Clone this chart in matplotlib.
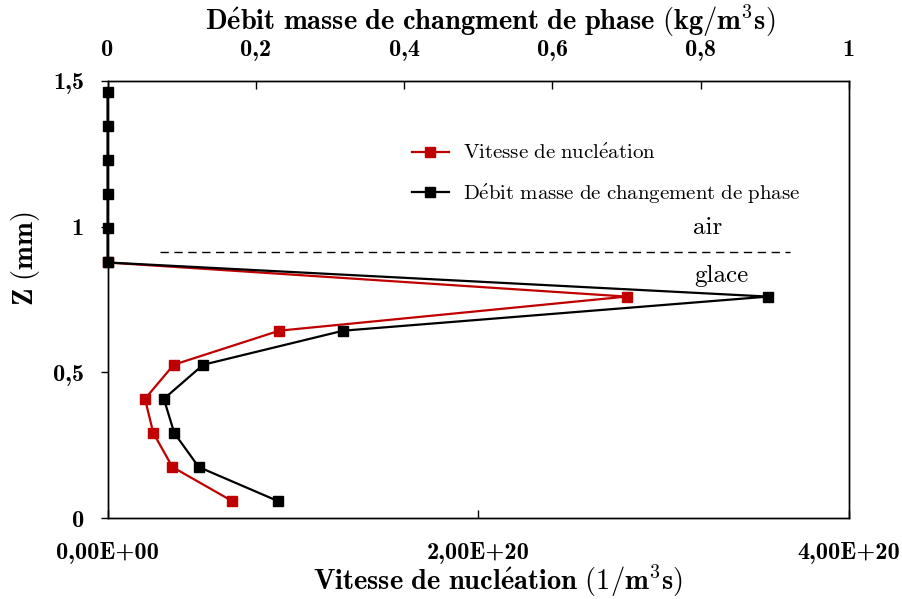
"""Profil de nucleation et debit masse de changement de phase."""
import matplotlib
matplotlib.use("Agg")
import matplotlib.pyplot as plt
from matplotlib.ticker import FixedLocator, FuncFormatter

plt.rcParams['font.family'] = ['cmr10', 'DejaVu Serif']
plt.rcParams['mathtext.fontset'] = 'cm'
plt.rcParams['axes.formatter.use_mathtext'] = True

# hauteur (mm)
z = [0.058, 0.175, 0.292, 0.409, 0.526, 0.643, 0.760, 0.877,
     0.994, 1.111, 1.228, 1.345, 1.462]
# vitesse de nucleation (1/m3s)
nucleation = [0.673e20, 0.350e20, 0.247e20, 0.202e20, 0.357e20, 0.927e20,
              2.80e20, 0.0]
# debit masse (kg/m3s)
debit = [0.230, 0.123, 0.090, 0.076, 0.129, 0.318, 0.891, 0.0,
         0.0, 0.0, 0.0, 0.0, 0.0]

interface_z = 0.914
interface_x = [0.283e20, 3.68e20]

RED = '#c00000'
BOLD = 'cmb10'

fig = plt.figure(figsize=(9.02, 5.99), dpi=100)
ax = fig.add_axes([0.1192, 0.1352, 0.822, 0.7296])
ax2 = ax.twiny()

l1, = ax.plot(nucleation, z[:len(nucleation)], color=RED, lw=1.6,
              marker='s', ms=7, clip_on=False,
              label=r'$\mathrm{Vitesse\ de\ nucl\acute{e}ation}$')
l2, = ax2.plot(debit, z, color='black', lw=1.6, marker='s', ms=7,
               clip_on=False,
               label=r'$\mathrm{D\acute{e}bit\ masse\ de\ changement\ de\ phase}$')

ax.plot(interface_x, [interface_z, interface_z], color='black', lw=1.0,
        dashes=(6, 4))
ax.text(3.24e20, 0.995, 'air', fontsize=18, ha='center', va='center')
ax.text(3.31e20, 0.831, 'glace', fontsize=18, ha='center', va='center')

ax.set_xlim(0, 4e20)
ax.set_ylim(0, 1.5)
ax2.set_xlim(0, 1)

ax.xaxis.set_major_locator(FixedLocator([0, 2e20, 4e20]))
ax.xaxis.set_major_formatter(FuncFormatter(
    lambda v, p: '0,00E+00' if v == 0 else ('%.2fE+20' % (v / 1e20)).replace('.', ',')))
ax.yaxis.set_major_locator(FixedLocator([0, 0.5, 1, 1.5]))
ax.yaxis.set_major_formatter(FuncFormatter(
    lambda v, p: ('%g' % v).replace('.', ',')))
ax2.xaxis.set_major_locator(FixedLocator([0, 0.2, 0.4, 0.6, 0.8, 1]))
ax2.xaxis.set_major_formatter(FuncFormatter(
    lambda v, p: ('%g' % v).replace('.', ',')))

ax.tick_params(axis='x', direction='in', length=6, width=1, pad=17,
               labelsize=17.5)
ax.tick_params(axis='y', direction='out', length=5, width=1, pad=12,
               labelsize=17.5)
ax2.tick_params(axis='x', direction='in', length=6, width=1, pad=14.5,
                labelsize=17.5)
for lab in ax.get_yticklabels() + ax2.get_xticklabels() + ax.get_xticklabels():
    lab.set_family(BOLD)

for a in (ax, ax2):
    for s in a.spines.values():
        s.set_linewidth(1.0)

ax.set_xlabel(r'$\mathbf{Vitesse\ de\ nucl\acute{e}ation\ (1/m^3s)}$',
              fontsize=20.5)
ax.xaxis.set_label_coords(0.527, -0.102)
ax2.set_xlabel(r'$\mathbf{D\acute{e}bit\ masse\ de\ changment\ de\ phase\ (kg/m^3s)}$',
               fontsize=20.5)
ax2.xaxis.set_label_coords(0.516, 1.117)
ax.set_ylabel(r'$\mathbf{Z\ (mm)}$', fontsize=20.5)
ax.yaxis.set_label_coords(-0.088, 0.593)

ax.legend(handles=[l1, l2], loc='upper left', bbox_to_anchor=(0.411, 0.856),
          frameon=False, fontsize=15, handlelength=1.75, labelspacing=0.9,
          handletextpad=0.7, borderpad=0, borderaxespad=0)

fig.savefig('out.png', dpi=100)
